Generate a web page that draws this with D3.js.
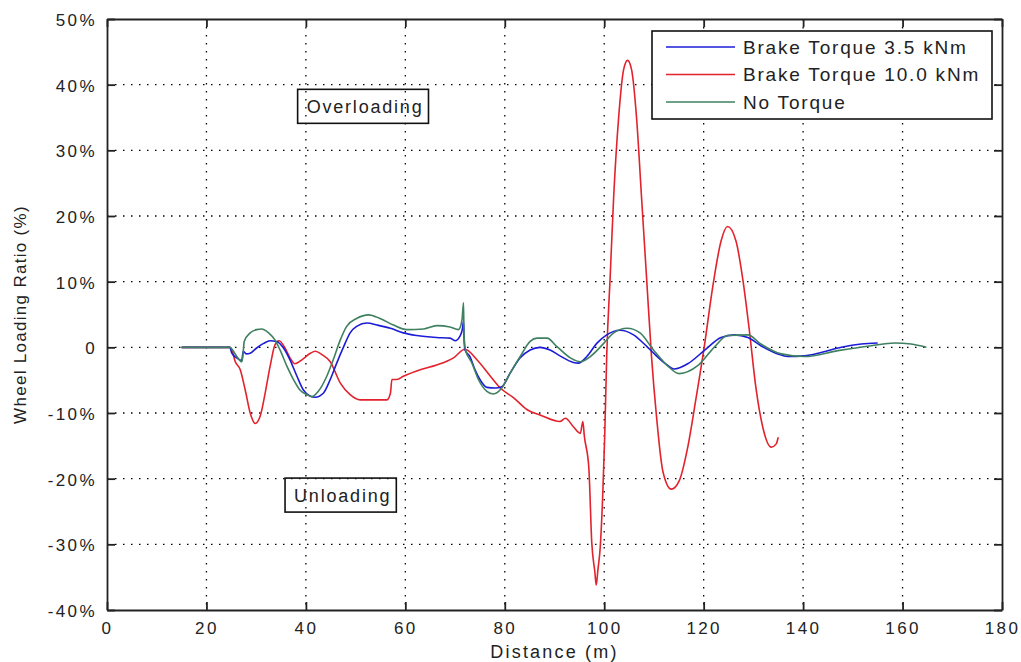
<!DOCTYPE html>
<html>
<head>
<meta charset="utf-8">
<script src="https://cdn.jsdelivr.net/npm/d3@7"></script>
<style>
  body { margin: 0; background: #fff; }
  text { font-family: "Liberation Sans", Arial, sans-serif; fill: #222; }
</style>
</head>
<body>
<div id="chart"></div>
<script>
// chart data: [distance (m), wheel loading ratio (%)]
var seriesNames = ["Brake Torque 3.5 kNm", "Brake Torque 10.0 kNm", "No Torque"];
var seriesColors = ["#1c1cd8", "#e2222c", "#3f8060"];

var xTicks = [0, 20, 40, 60, 80, 100, 120, 140, 160, 180];
var yTicks = [-40, -30, -20, -10, 0, 10, 20, 30, 40, 50];

var torque35 = [
  [15, 0], [24.7, 0], [25.1, -0.9], [26.1, -1.6], [27.1, -2.0], [27.4, -0.6], [28.0, -1.0],
  [28.8, -0.9], [30.1, -0.1], [31.5, 0.6], [32.8, 1.0], [34.1, 0.9], [35.5, -0.1], [36.8, -1.9],
  [38.2, -4.4], [39.5, -6.5], [40.8, -7.4], [41.9, -7.6], [43.5, -7.0], [44.9, -4.9], [46.2, -2.4],
  [47.6, 0.1], [48.9, 2.2], [50.2, 3.2], [52.3, 3.7], [54.3, 3.4], [57.0, 2.9], [59.6, 2.2],
  [62.3, 1.8], [66.3, 1.5], [69.0, 1.4], [70.0, 1.0], [71.0, 1.7], [71.5, 2.9], [71.7, 4.0],
  [71.8, 1.5], [72.0, -0.4], [73.0, -1.4], [74.0, -3.4], [75.0, -4.9], [76.4, -6.1], [78.1, -6.2],
  [79.4, -6.0], [81.1, -3.9], [83.1, -1.6], [85.1, -0.4], [87.1, 0], [89.1, -0.4], [91.1, -1.3],
  [93.8, -2.3], [94.8, -2.4], [96.5, -1.4], [98.5, 0.6], [100.5, 1.9], [103.2, 2.6], [105.9, 1.9],
  [108.6, 0.1], [110.1, -1.0], [112.5, -2.6], [114.1, -3.3], [116.8, -2.5], [120.1, -0.5],
  [123.5, 1.5], [126.2, 1.9], [128.9, 1.5], [131.5, 0.25], [134.9, -1.0], [136.9, -1.4],
  [140.3, -1.3], [143.6, -0.8], [147.7, 0], [151.7, 0.5], [155.0, 0.66]
];

var torque100 = [
  [15, 0], [24.7, 0], [25.1, -0.4], [25.8, -2.2], [26.8, -3.4], [27.8, -6.5], [28.8, -10.0],
  [29.8, -11.6], [30.8, -10.5], [31.8, -7.0], [32.8, -2.9], [33.8, 0.4], [34.6, 1.0], [35.8, -0.1],
  [36.8, -1.6], [37.8, -2.5], [39.2, -1.9], [40.9, -0.9], [41.9, -0.6], [43.2, -1.1], [44.9, -2.2],
  [46.9, -5.4], [48.9, -7.2], [50.9, -8.0], [52.9, -8.0], [56.3, -8.0], [57.0, -7.0], [57.3, -4.9],
  [58.3, -4.9], [59.6, -4.4], [63.0, -3.4], [66.3, -2.7], [69.7, -1.6], [72.0, -0.3], [74.4, -1.9],
  [77.1, -4.4], [79.1, -6.2], [81.8, -7.7], [84.5, -9.5], [87.1, -10.3], [91.1, -11.3], [92.2, -10.8],
  [93.8, -12.1], [95.2, -13.1], [95.7, -11.3], [96.0, -13.5], [96.9, -18.3], [97.5, -29.8],
  [98.1, -34.1], [98.4, -36.2], [98.7, -34.1], [99.2, -30.4], [99.7, -22.5], [100.1, -13.5],
  [100.5, -1.3], [101.2, 10.8], [101.9, 22.9], [102.9, 35.0], [103.9, 42.3], [104.7, 43.7],
  [105.5, 42.3], [106.5, 35.0], [107.5, 22.9], [108.5, 10.8], [109.5, -1.3], [110.5, -10.4],
  [111.8, -18.9], [113.5, -21.6], [115.1, -20.3], [116.8, -15.2], [118.5, -7.6], [120.1, 0],
  [121.8, 9.1], [123.5, 16.2], [124.8, 18.4], [126.5, 16.2], [127.9, 10.2], [129.2, 2.5],
  [130.5, -6.1], [131.9, -12.2], [133.6, -15.2], [134.6, -14.7], [135.0, -13.7]
];

var noTorque = [
  [15, 0], [24.7, 0], [26.1, -1.4], [27.1, -2.2], [27.3, -1.5], [27.6, 0.9], [28.8, 2.2],
  [30.1, 2.7], [31.1, 2.8], [32.5, 2.2], [33.8, 1.1], [34.8, -0.4], [36.2, -2.9], [37.5, -4.9],
  [38.8, -6.5], [40.2, -7.2], [41.2, -7.5], [42.5, -6.7], [44.2, -4.4], [45.5, -1.9], [46.9, 1.1],
  [48.2, 3.2], [50.2, 4.4], [52.6, 4.95], [54.9, 4.4], [57.6, 3.4], [60.3, 2.7], [63.7, 2.8],
  [66.3, 3.3], [69.0, 3.1], [70.7, 2.7], [71.4, 4.2], [71.7, 6.8], [71.8, 2.0], [72.1, -0.4],
  [73.4, -2.4], [74.7, -4.9], [76.4, -6.7], [77.7, -7.1], [79.4, -6.2], [81.1, -3.9], [83.1, -1.4],
  [85.1, 0.9], [86.5, 1.4], [88.5, 1.4], [90.5, 0.1], [93.2, -1.6], [95.2, -2.2], [97.2, -1.4],
  [99.9, 0.6], [101.9, 2.2], [104.6, 2.9], [107.2, 2.2], [109.9, -0.4], [112.6, -2.7], [115.1, -4.0],
  [118.8, -2.8], [122.1, 0], [124.8, 1.8], [128.9, 1.9], [131.5, 0.5], [135.6, -1.0], [140.3, -1.4],
  [147.0, -0.5], [153.7, 0.25], [158.4, 0.66], [161.7, 0.5], [164.8, 0]
];

var annotations = [
  { label: "Overloading", x: 51.9, y: 36.7 },
  { label: "Unloading", x: 47.4, y: -22.5 }
];

var svgWidth = 1021;
var svgHeight = 662;
var margin = { top: 19, right: 19, bottom: 52, left: 107 };
var width = svgWidth - margin.left - margin.right;
var height = svgHeight - margin.top - margin.bottom;

var svg = d3.select("#chart")
  .append("svg")
  .attr("width", svgWidth)
  .attr("height", svgHeight);

var chartGroup = svg.append("g")
  .attr("transform", `translate(${margin.left}, ${margin.top})`);

var xScale = d3.scaleLinear().domain([0, 180]).range([0, width]);
var yScale = d3.scaleLinear().domain([-40, 50]).range([height, 0]);

// dotted grid
chartGroup.append("g")
  .selectAll("line")
  .data(xTicks.slice(1, -1))
  .enter()
  .append("line")
  .attr("x1", d => xScale(d)).attr("x2", d => xScale(d))
  .attr("y1", 0).attr("y2", height)
  .attr("stroke", "#000")
  .attr("stroke-width", 1.3)
  .attr("stroke-dasharray", "1.5,6.5");

chartGroup.append("g")
  .selectAll("line")
  .data(yTicks.slice(1, -1))
  .enter()
  .append("line")
  .attr("y1", d => yScale(d)).attr("y2", d => yScale(d))
  .attr("x1", 0).attr("x2", width)
  .attr("stroke", "#000")
  .attr("stroke-width", 1.3)
  .attr("stroke-dasharray", "1.5,6.5");

// axes, ticks inside on all four sides (matlab box)
var fmtY = d => d === 0 ? "0" : d + "%";

var bottomAxis = d3.axisBottom(xScale).tickValues(xTicks).tickSizeInner(-8).tickSizeOuter(0).tickPadding(12);
var topAxis = d3.axisTop(xScale).tickValues(xTicks).tickSizeInner(-8).tickSizeOuter(0).tickFormat("");
var leftAxis = d3.axisLeft(yScale).tickValues(yTicks).tickSizeInner(-8).tickSizeOuter(0).tickPadding(10).tickFormat(fmtY);
var rightAxis = d3.axisRight(yScale).tickValues(yTicks).tickSizeInner(-8).tickSizeOuter(0).tickFormat("");

var xAxis = chartGroup.append("g")
  .attr("transform", `translate(0, ${height})`)
  .call(bottomAxis);
chartGroup.append("g").call(topAxis);
var yAxis = chartGroup.append("g").call(leftAxis);
chartGroup.append("g")
  .attr("transform", `translate(${width}, 0)`)
  .call(rightAxis);

chartGroup.selectAll(".domain").attr("stroke", "#222").attr("stroke-width", 1.8);
chartGroup.selectAll(".tick line").attr("stroke", "#222").attr("stroke-width", 1.8);
chartGroup.selectAll(".tick text")
  .attr("fill", "#222")
  .style("font-size", "17px")
  .style("letter-spacing", "2.4px");
yAxis.selectAll(".tick text").attr("dy", "0.38em");

// the lines
var line = d3.line()
  .x(d => xScale(d[0]))
  .y(d => yScale(d[1]))
  .curve(d3.curveMonotoneX);

var allSeries = [torque35, torque100, noTorque];
var drawOrder = [1, 0, 2];

drawOrder.forEach(function(i) {
  chartGroup.append("path")
    .datum(allSeries[i])
    .attr("fill", "none")
    .attr("stroke", seriesColors[i])
    .attr("stroke-width", 1.6)
    .attr("stroke-linejoin", "round")
    .attr("d", line);
});

// text boxes (no fill, grid shows through like in matlab)
annotations.forEach(function(a) {
  var g = chartGroup.append("g")
    .attr("transform", `translate(${xScale(a.x)}, ${yScale(a.y)})`);
  var t = g.append("text")
    .attr("x", 0)
    .attr("y", 0)
    .attr("text-anchor", "middle")
    .attr("dy", "0.36em")
    .style("font-size", "18px")
    .style("letter-spacing", "1.8px")
    .text(a.label);
  var bb = t.node().getBBox();
  g.insert("rect", "text")
    .attr("x", bb.x - 9)
    .attr("y", -17)
    .attr("width", bb.width + 14)
    .attr("height", 34)
    .attr("fill", "none")
    .attr("stroke", "#111")
    .attr("stroke-width", 1.6);
});

// legend
var legend = chartGroup.append("g")
  .attr("transform", `translate(${652 - margin.left}, ${31 - margin.top})`);

legend.append("rect")
  .attr("width", 340)
  .attr("height", 88)
  .attr("fill", "#fff")
  .attr("stroke", "#111")
  .attr("stroke-width", 1.6);

seriesNames.forEach(function(name, i) {
  var yy = 16 + i * 27.5;
  legend.append("line")
    .attr("x1", 14).attr("x2", 83)
    .attr("y1", yy).attr("y2", yy)
    .attr("stroke", seriesColors[i])
    .attr("stroke-width", 1.6);
  legend.append("text")
    .attr("x", 91)
    .attr("y", yy)
    .attr("dy", "0.36em")
    .style("font-size", "19px")
    .style("letter-spacing", "1.8px")
    .text(name);
});

// axis titles
svg.append("text")
  .attr("x", margin.left + width / 2)
  .attr("y", 658)
  .attr("text-anchor", "middle")
  .style("font-size", "18px")
  .style("letter-spacing", "2.2px")
  .text("Distance (m)");

svg.append("text")
  .attr("transform", "rotate(-90)")
  .attr("x", -(margin.top + height / 2))
  .attr("y", 26)
  .attr("text-anchor", "middle")
  .style("font-size", "17px")
  .style("letter-spacing", "1.3px")
  .text("Wheel Loading Ratio (%)");
</script>
</body>
</html>
